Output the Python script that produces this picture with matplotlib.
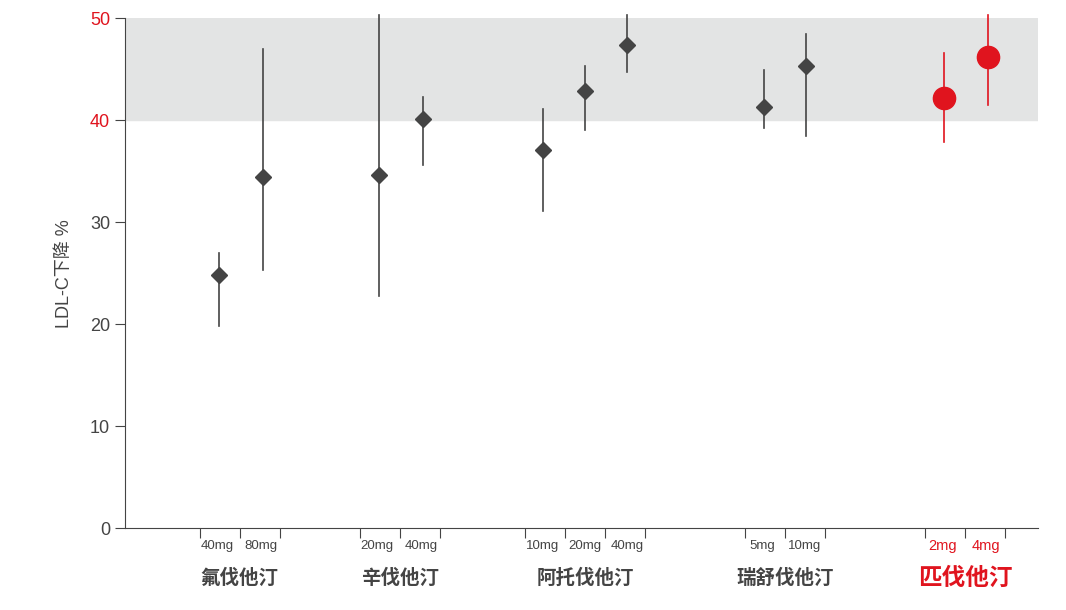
import matplotlib.pyplot as plt

plt.rcParams['font.family'] = ['Liberation Sans', 'Noto Sans CJK SC', 'DejaVu Sans']

groups = ['氟伐他汀', '辛伐他汀', '阿托伐他汀', '瑞舒伐他汀', '匹伐他汀']
doses = [['40mg', '80mg'], ['20mg', '40mg'], ['10mg', '20mg', '40mg'], ['5mg', '10mg'], ['2mg', '4mg']]
means = [[24.8, 34.4], [34.6, 40.1], [37.1, 42.9, 47.4], [41.3, 45.3], [42.2, 46.2]]
lows = [[19.8, 25.3], [22.8, 35.6], [31.1, 39.0, 44.7], [39.2, 38.5], [37.9, 41.5]]
highs = [[27.0, 47.0], [50.3, 42.3], [41.1, 45.3, 50.3], [44.9, 48.5], [46.6, 50.3]]

# horizontal layout (pixel-like units)
group_ticks = [[200, 240, 280], [360, 400, 440], [525, 565, 605, 645], [745, 785, 825], [925, 965, 1005]]
point_x = [[219, 263], [379, 423], [543, 585, 627], [764, 806], [944, 988]]

dark = '#444444'
red = '#e0141e'

fig = plt.figure(figsize=(10.66, 6.10), dpi=100)
ax = fig.add_axes([0.117, 0.134, 0.857, 0.836])
ax.set_xlim(125, 1038)
ax.set_ylim(0, 50)
ax.axhspan(40, 50, color='#e3e4e4', zorder=0)

for gi in range(len(groups)):
    col = red if gi == 4 else dark
    for x, m, lo, hi in zip(point_x[gi], means[gi], lows[gi], highs[gi]):
        ax.plot([x, x], [lo, hi], color=col, lw=1.2, clip_on=False, zorder=2)
        if gi == 4:
            ax.plot(x, m, 'o', color=col, ms=16, clip_on=False, zorder=3)
        else:
            ax.plot(x, m, 'D', color=col, ms=8, clip_on=False, zorder=3)
    for x, d in zip(point_x[gi], doses[gi]):
        ax.text(x - 2 if gi != 2 else x, -1.7, d, ha='center', va='center', fontsize=10.5 if gi == 4 else 9.5,
                color=col)
    cx = sum(group_ticks[gi]) / len(group_ticks[gi])
    ax.text(cx, -4.9, groups[gi], ha='center', va='center', fontsize=17 if gi == 4 else 14,
            color=col, fontweight='bold', family=['Noto Sans CJK SC'])

ax.set_xticks([t for g in group_ticks for t in g])
ax.set_xticklabels([])
ax.tick_params(axis='x', length=7, color=dark)
ax.set_yticks([0, 10, 20, 30, 40, 50])
ax.tick_params(axis='y', length=7, color=dark, labelsize=13)
for lbl in ax.get_yticklabels():
    lbl.set_color(red if lbl.get_text() in ('40', '50') else dark)
ax.set_ylabel('LDL-C下降 %', fontsize=13, color=dark, labelpad=12)
for s in ['top', 'right']:
    ax.spines[s].set_visible(False)
for s in ['left', 'bottom']:
    ax.spines[s].set_color(dark)

fig.savefig('out.png', dpi=100)
